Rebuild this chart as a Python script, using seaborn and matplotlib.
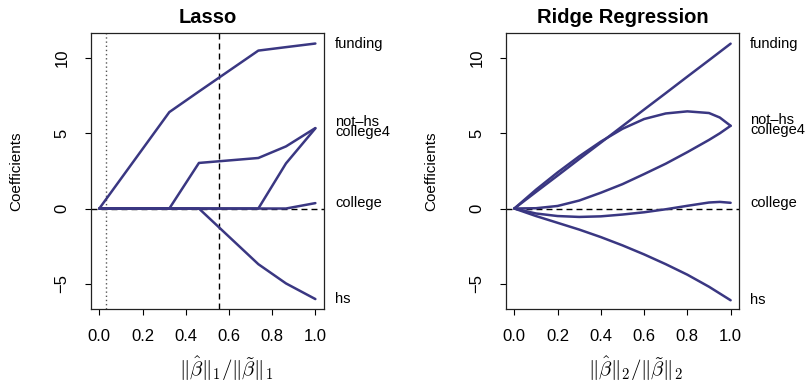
import numpy as np
import pandas as pd
import matplotlib
matplotlib.use("Agg")
import matplotlib.pyplot as plt
import matplotlib.transforms as mtransforms
import seaborn as sns

# ---------------- data ----------------
variables = ["funding", "not-hs", "college4", "college", "hs"]
label_text = {"funding": "funding", "not-hs": "not\u2013hs", "college4": "college4",
              "college": "college", "hs": "hs"}

# Lasso path (piecewise linear, knots)
lasso_x = [0.0, 0.324, 0.461, 0.736, 0.864, 1.0]
lasso_funding = [0.0, 6.41, 7.78, 10.5, 10.73, 10.97]
lasso_noths = [0.0, 0.0, 3.03, 3.36, 4.13, 5.35]
lasso_college4 = [0.0, 0.0, 0.0, 0.0, 3.0, 5.33]
lasso_college = [0.0, 0.0, 0.0, 0.0, 0.0, 0.36]
lasso_hs = [0.0, 0.0, 0.0, -3.70, -4.98, -6.02]
lasso_dotted = 0.03
lasso_dashed = 0.556

# Ridge path
ridge_x = [0.0, 0.1, 0.2, 0.3, 0.4, 0.5, 0.6, 0.7, 0.8, 0.9, 0.95, 1.0]
ridge_funding = [0.0, 1.1, 2.19, 3.29, 4.38, 5.48, 6.58, 7.67, 8.77, 9.86, 10.41, 10.96]
ridge_noths = [0.0, 1.25, 2.4, 3.47, 4.45, 5.3, 5.95, 6.32, 6.46, 6.35, 6.05, 5.5]
ridge_college4 = [0.0, 0.02, 0.17, 0.53, 1.05, 1.62, 2.29, 2.98, 3.75, 4.56, 5.0, 5.5]
ridge_college = [0.0, -0.33, -0.5, -0.56, -0.52, -0.4, -0.25, -0.05, 0.18, 0.4, 0.44, 0.38]
ridge_hs = [0.0, -0.5, -0.95, -1.4, -1.9, -2.45, -3.05, -3.7, -4.4, -5.2, -5.65, -6.1]

x_ticks = [0.0, 0.2, 0.4, 0.6, 0.8, 1.0]
y_ticks = [-5, 0, 5, 10]


def long_df(x, series):
    rows = []
    for name, vals in zip(variables, series):
        for xi, yi in zip(x, vals):
            rows.append((name, xi, yi))
    return pd.DataFrame(rows, columns=["var", "x", "coef"])


lasso_df = long_df(lasso_x, [lasso_funding, lasso_noths, lasso_college4, lasso_college, lasso_hs])
ridge_df = long_df(ridge_x, [ridge_funding, ridge_noths, ridge_college4, ridge_college, ridge_hs])

# ---------------- style ----------------
sns.set_style("white")
plt.rcParams["font.family"] = ["Liberation Sans", "DejaVu Sans"]
plt.rcParams["mathtext.fontset"] = "cm"
for k in ["text.color", "axes.labelcolor", "xtick.color", "ytick.color"]:
    plt.rcParams[k] = "black"

LINE = "#3A3782"
palette = {v: LINE for v in variables}

fig = plt.figure(figsize=(8.06, 3.81), dpi=100)
ax1 = fig.add_axes([0.1125, 0.189, 0.2895, 0.7236])
ax2 = fig.add_axes([0.6274, 0.189, 0.2898, 0.7236])

label_offsets = {"not-hs": 0.4, "college4": -0.25}

for ax, df, title, xlab, xlab_x in [
    (ax1, lasso_df, "Lasso", r"$\|\hat{\beta}\|_1/\|\tilde{\beta}\|_1$", 0.58),
    (ax2, ridge_df, "Ridge Regression", r"$\|\hat{\beta}\|_2/\|\tilde{\beta}\|_2$", 0.556),
]:
    ax.axhline(0, color="black", lw=1.0, dashes=(4.3, 2.9), zorder=1)
    sns.lineplot(data=df, x="x", y="coef", hue="var", palette=palette, units="var",
                 estimator=None, sort=False, legend=False, lw=1.8, ax=ax, zorder=3)
    ax.set_xlim(-0.04, 1.04)
    ax.set_ylim(-6.68, 11.65)
    ax.set_xticks(x_ticks)
    ax.set_xticklabels([f"{t:.1f}" for t in x_ticks], fontsize=12)
    ax.set_yticks(y_ticks)
    ax.set_yticklabels([str(t).replace("-", "\u2212") for t in y_ticks], fontsize=12,
                       rotation=90, va="center")
    ax.tick_params(axis="both", which="major", direction="out", length=4.3, width=0.8,
                   color="black", bottom=True, left=True)
    ax.tick_params(axis="x", pad=10)
    ax.tick_params(axis="y", pad=11)
    for s in ax.spines.values():
        s.set_visible(True)
        s.set_color("#222222")
        s.set_linewidth(0.9)
    ax.set_title(title, fontsize=14.5, fontweight="bold", pad=7.5)
    ax.set_ylabel("Coefficients", fontsize=11)
    ax.yaxis.set_label_coords(-0.29, 0.5)
    ax.set_xlabel(xlab, fontsize=15, va="center")
    ax.xaxis.set_label_coords(xlab_x, -0.215)
    trans = mtransforms.blended_transform_factory(ax.transAxes, ax.transData)
    last = df.sort_values("x").groupby("var")["coef"].last()
    for v in variables:
        ax.text(1.047, last[v] + label_offsets.get(v, 0.0), label_text[v], transform=trans,
                fontsize=10.5, va="center", ha="left", clip_on=False)

ax1.axvline(lasso_dotted, color="#555555", lw=1.0, dashes=(1, 2), zorder=2)
ax1.axvline(lasso_dashed, color="black", lw=1.0, dashes=(4.3, 2.9), zorder=2)

fig.savefig("out.png", dpi=100)
